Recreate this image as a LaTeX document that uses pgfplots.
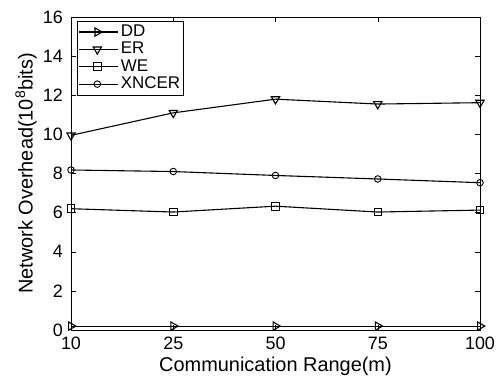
\documentclass[border=0pt]{standalone}
\usepackage{pgfplots}
\pgfplotsset{compat=1.18}
\usepackage{fontspec}
\setmainfont{Liberation Sans}
\begin{document}
\fontsize{18}{21}\selectfont
\begin{tikzpicture}
\begin{axis}[
  scale only axis,
  width=409bp, height=313bp,
  xmin=0, xmax=4, ymin=0, ymax=16,
  xtick={0,1,2,3,4}, xticklabels={10,25,50,75,100},
  ytick={0,2,...,16},
  tick align=inside,
  major tick length=5bp,
  tick style={black, line width=0.5pt},
  axis line style={line width=0.6pt},
  /pgf/number format/assume math mode=true,
  ticklabel style={font=\fontsize{18}{21}\selectfont},
  label style={font=\fontsize{20}{23}\selectfont},
  xlabel={Communication Range(m)},
  ylabel={Network Overhead(10\textsuperscript{8}bits)},
  xlabel style={at={(rel axis cs:0.5,0)}, anchor=center, yshift=-36bp},
  ylabel style={at={(rel axis cs:0,0.5)}, anchor=center, yshift=45bp},
  xticklabel style={anchor=north, yshift=-1bp},
  yticklabel style={anchor=east, xshift=-2bp},
  clip=false,
  legend cell align=left,
  legend style={font=\fontsize{17}{19}\selectfont, draw=black, line width=0.6pt, inner sep=1.5pt, row sep=-1pt, at={(0.0147,0.987)}, anchor=north west},
  legend image code/.code={\draw[mark repeat=2,mark phase=2,#1] plot coordinates {(0bp,0bp) (18bp,0bp) (36bp,0bp)}; \path (0bp,0bp) -- (39bp,0bp);},
  every axis plot/.append style={black, line width=1.1pt, mark options={solid, fill=white, line width=0.9pt}},
]
\addplot[mark=triangle, mark size=4.8pt, mark options={rotate=-90}] coordinates {(0,0.2) (1,0.2) (2,0.2) (3,0.2) (4,0.2)};
\addlegendentry{DD}
\addplot[mark=triangle, mark size=4.8pt, mark options={rotate=180}] coordinates {(0,9.95) (1,11.1) (2,11.8) (3,11.55) (4,11.62)};
\addlegendentry{ER}
\addplot[mark=square, mark size=3.8pt] coordinates {(0,6.2) (1,6.03) (2,6.33) (3,6.03) (4,6.13)};
\addlegendentry{WE}
\addplot[mark=o, mark size=3.3pt] coordinates {(0,8.18) (1,8.1) (2,7.9) (3,7.72) (4,7.53)};
\addlegendentry{XNCER}
\coordinate (sw) at (rel axis cs:0,0);
\coordinate (ne) at (rel axis cs:1,1);
\end{axis}
\pgfresetboundingbox
\path ([shift={(-71bp,-50bp)}]sw) rectangle ([shift={(22bp,17bp)}]ne);
\end{tikzpicture}
\end{document}
